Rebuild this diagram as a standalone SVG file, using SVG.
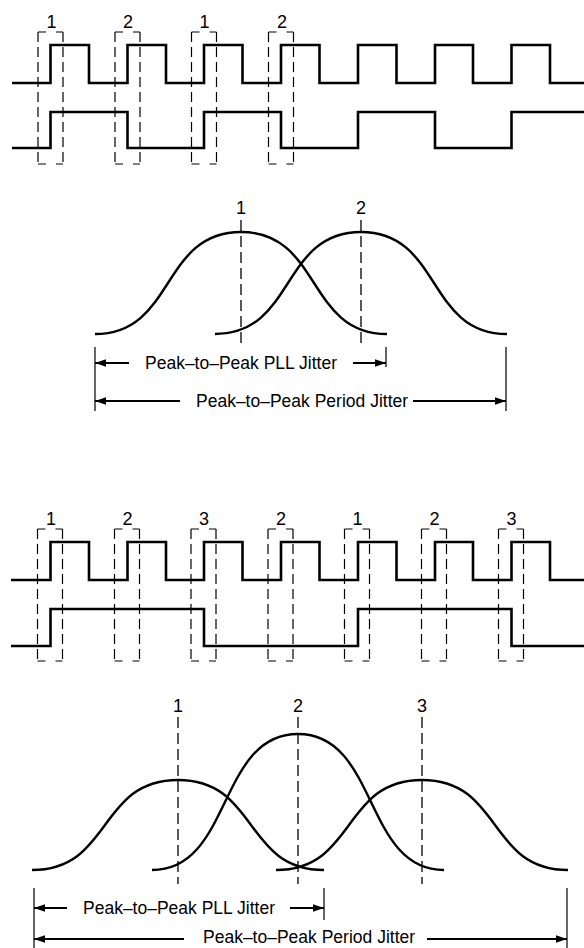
<svg xmlns="http://www.w3.org/2000/svg" width="584" height="948" viewBox="0 0 584 948">
<defs>
<style>
.wave{fill:none;stroke:#000;stroke-width:2.6;stroke-linejoin:miter;stroke-linecap:butt}
.bell{fill:none;stroke:#000;stroke-width:2.4}
.hd{fill:none;stroke:#000;stroke-width:1.2;stroke-dasharray:8 10}
.vd{fill:none;stroke:#000;stroke-width:1.2;stroke-dasharray:10 5}
.cd{fill:none;stroke:#000;stroke-width:1.3;stroke-dasharray:11 5}
.tick{fill:none;stroke:#000;stroke-width:1.2}
.arr{fill:none;stroke:#000;stroke-width:2;marker-end:url(#ah)}
.lbl{font-family:"Liberation Sans",Arial,Helvetica,sans-serif;font-size:17.5px;fill:#000}
.num{font-family:"Liberation Sans",Arial,Helvetica,sans-serif;font-size:18px;fill:#000;text-anchor:middle}
</style>
<marker id="ah" markerUnits="userSpaceOnUse" markerWidth="12" markerHeight="8" refX="11" refY="3.75" orient="auto">
<path d="M0,0 L11,3.75 L0,7.5 z" fill="#000"/>
</marker>
</defs>
<rect x="0" y="0" width="584" height="948" fill="#fff"/>

<!-- ===== TOP SECTION ===== -->
<g id="top-waveforms">
<path id="top-wave-clock" class="wave" d="M12,83 H50.5 V45 H89 V83 H127.5 V45 H166 V83 H204 V45 H242.5 V83 H281 V45 H319.5 V83 H358 V45 H396.5 V83 H435 V45 H473 V83 H511.5 V45 H550 V83 H584"/>
<path id="top-wave-data" class="wave" d="M12,148 H50.5 V112 H127.5 V148 H204 V112 H281 V148 H358 V112 H435 V148 H511.5 V112 H584"/>
</g>
<g id="top-windows">
<g id="top-win-1"><path class="hd" d="M38,32 H63 M38,164 H63"/><path class="vd" d="M38,32 V164 M63,32 V164"/><text class="num" x="51.5" y="28">1</text></g>
<g id="top-win-2"><path class="hd" d="M115,32 H140 M115,164 H140"/><path class="vd" d="M115,32 V164 M140,32 V164"/><text class="num" x="128" y="28">2</text></g>
<g id="top-win-3"><path class="hd" d="M191.5,32 H216.5 M191.5,164 H216.5"/><path class="vd" d="M191.5,32 V164 M216.5,32 V164"/><text class="num" x="204.5" y="28">1</text></g>
<g id="top-win-4"><path class="hd" d="M268.5,32 H293.5 M268.5,164 H293.5"/><path class="vd" d="M268.5,32 V164 M293.5,32 V164"/><text class="num" x="282" y="28">2</text></g>
</g>
<g id="top-distributions">
<g id="top-dist-1"><path class="bell" d="M95,334 C175.3,334 160.7,232 241,232 C321.3,232 306.7,334 387,334"/><path class="cd" d="M241,220 V346"/><text class="num" x="241" y="214">1</text></g>
<g id="top-dist-2"><path class="bell" d="M215,334 C295.3,334 280.7,232 361,232 C441.3,232 426.7,334 507,334"/><path class="cd" d="M361,220 V346"/><text class="num" x="361" y="214">2</text></g>
</g>
<g id="top-dimensions">
<path class="tick" d="M95,347 V411 M386,347 V367 M506,347 V411"/>
<path class="arr" d="M129,363 H95"/>
<path class="arr" d="M353,363 H386"/>
<text class="lbl" x="145" y="369">Peak–to–Peak PLL Jitter</text>
<path class="arr" d="M180,401 H95"/>
<path class="arr" d="M413,401 H506"/>
<text class="lbl" x="196" y="407">Peak–to–Peak Period Jitter</text>
</g>

<!-- ===== BOTTOM SECTION ===== -->
<g id="bottom-waveforms">
<path id="bot-wave-clock" class="wave" d="M11,580 H50.5 V542 H89 V580 H127.5 V542 H166 V580 H204 V542 H242.5 V580 H281 V542 H319.5 V580 H358 V542 H396.5 V580 H435 V542 H473 V580 H511.5 V542 H550 V580 H584"/>
<path id="bot-wave-data" class="wave" d="M11,646 H50.5 V609 H204 V646 H358 V609 H511.5 V646 H584"/>
</g>
<g id="bottom-windows">
<g id="bot-win-1"><path class="hd" d="M37.5,529 H62.5 M37.5,661 H62.5"/><path class="vd" d="M37.5,529 V661 M62.5,529 V661"/><text class="num" x="51" y="525">1</text></g>
<g id="bot-win-2"><path class="hd" d="M114.5,529 H139.5 M114.5,661 H139.5"/><path class="vd" d="M114.5,529 V661 M139.5,529 V661"/><text class="num" x="127.5" y="525">2</text></g>
<g id="bot-win-3"><path class="hd" d="M191,529 H216 M191,661 H216"/><path class="vd" d="M191,529 V661 M216,529 V661"/><text class="num" x="204" y="525">3</text></g>
<g id="bot-win-4"><path class="hd" d="M268,529 H293 M268,661 H293"/><path class="vd" d="M268,529 V661 M293,529 V661"/><text class="num" x="281" y="525">2</text></g>
<g id="bot-win-5"><path class="hd" d="M344.5,529 H369.5 M344.5,661 H369.5"/><path class="vd" d="M344.5,529 V661 M369.5,529 V661"/><text class="num" x="357.5" y="525">1</text></g>
<g id="bot-win-6"><path class="hd" d="M421.5,529 H446.5 M421.5,661 H446.5"/><path class="vd" d="M421.5,529 V661 M446.5,529 V661"/><text class="num" x="434.5" y="525">2</text></g>
<g id="bot-win-7"><path class="hd" d="M498.5,529 H523.5 M498.5,661 H523.5"/><path class="vd" d="M498.5,529 V661 M523.5,529 V661"/><text class="num" x="511.5" y="525">3</text></g>
</g>
<g id="bottom-distributions">
<g id="bot-dist-1"><path class="bell" d="M32,870 C112.3,870 97.7,780 178,780 C258.3,780 243.7,870 324,870"/><path class="cd" d="M178,717 V884"/><text class="num" x="178" y="712">1</text></g>
<g id="bot-dist-2"><path class="bell" d="M152,870 C232.3,870 217.7,734 298,734 C378.3,734 363.7,870 444,870"/><path class="cd" d="M298,717 V884"/><text class="num" x="298" y="712">2</text></g>
<g id="bot-dist-3"><path class="bell" d="M276,870 C356.3,870 341.7,780 422,780 C502.3,780 487.7,870 568,870"/><path class="cd" d="M422,717 V884"/><text class="num" x="422" y="712">3</text></g>
</g>
<g id="bottom-dimensions">
<path class="tick" d="M34,888 V948 M324,888 V920 M567,888 V948"/>
<path class="arr" d="M67,908 H34"/>
<path class="arr" d="M290,908 H324"/>
<text class="lbl" x="83" y="914">Peak–to–Peak PLL Jitter</text>
<path class="arr" d="M184,939 H34"/>
<path class="arr" d="M427,939 H567"/>
<text class="lbl" x="203" y="943">Peak–to–Peak Period Jitter</text>
</g>
</svg>
